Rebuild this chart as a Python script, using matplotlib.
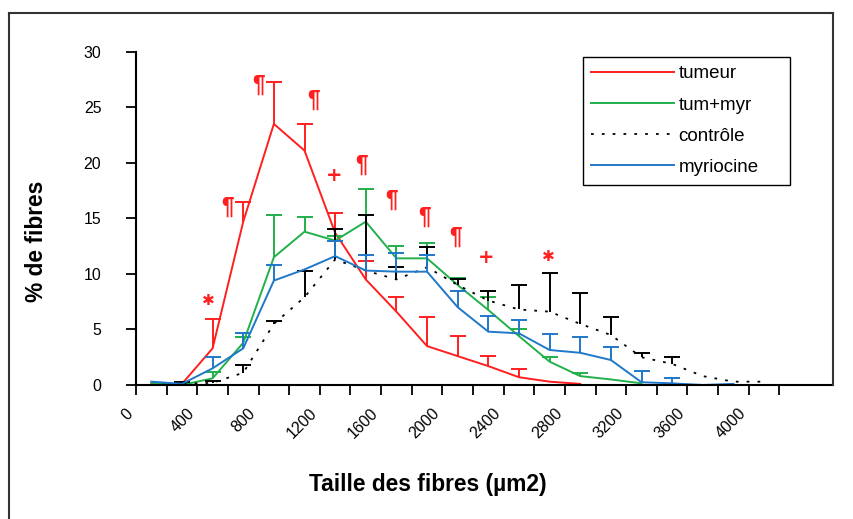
import numpy as np
import matplotlib.pyplot as plt
from matplotlib import font_manager
from matplotlib.lines import Line2D

nan = np.nan

# centres des classes de taille (µm2)
taille = [100, 300, 500, 700, 900, 1100, 1300, 1500, 1700, 1900, 2100,
          2300, 2500, 2700, 2900, 3100, 3300, 3500, 3700, 3900, 4100]

tumeur = [0.1, 0.1, 3.3, 14.7, 23.5, 21.1, 13.7, 9.5, 6.6, 3.5, 2.6,
          1.7, 0.7, 0.3, 0.1, nan, nan, nan, nan, nan, nan]
tumeur_haut = [nan, nan, 5.9, 16.5, 27.3, 23.5, 15.5, 11.2, 7.9, 6.1, 4.4,
               2.6, 1.4, nan, nan, nan, nan, nan, nan, nan, nan]

tum_myr = [0.2, 0.0, 0.6, 3.8, 11.5, 13.8, 13.0, 14.7, 11.4, 11.4, 9.0,
           6.75, 4.4, 2.1, 0.8, 0.5, 0.15, nan, nan, nan, nan]
tum_myr_haut = [nan, nan, 1.2, 4.35, 15.3, 15.1, 13.4, 17.6, 12.5, 12.8, 9.6,
                7.9, 5.0, 2.55, 1.1, nan, nan, nan, nan, nan, nan]

controle = [0.0, 0.1, 0.2, 1.1, 5.5, 7.9, 11.3, 10.3, 9.5, 10.6, 9.0,
            7.6, 6.8, 6.6, 5.5, 4.5, 2.5, 1.9, 0.8, 0.3, 0.3]
controle_haut = [nan, 0.25, 0.4, 1.8, 5.8, 10.3, 14.0, 15.3, 10.6, 12.4, 9.5,
                 8.5, 9.0, 10.1, 8.3, 6.1, 2.85, 2.5, nan, nan, nan]

myriocine = [0.3, 0.1, 1.5, 3.3, 9.4, 10.4, 11.6, 10.3, 10.2, 10.2, 7.0,
             4.8, 4.65, 3.15, 2.9, 2.25, 0.25, 0.15, 0.0, 0.1, nan]
myriocine_haut = [nan, nan, 2.5, 4.65, 10.8, nan, 13.0, 11.7, 11.9, 11.7, 8.5,
                  6.2, 5.85, 4.6, 4.3, 3.4, 1.25, 0.66, nan, nan, nan]

# signes de significativite
signes = ['✱', '¶', '¶', '¶', '+', '¶', '¶', '¶', '¶', '+', '✱']
signes_x = [470, 600, 800, 1160, 1295, 1475, 1670, 1885, 2085, 2285, 2690]
signes_y = [7.6, 16.0, 27.0, 25.6, 18.9, 19.8, 16.6, 15.1, 13.3, 11.5, 11.6]

graduations = list(range(0, 4400, 200))
etiquettes = [str(g) if g % 400 == 0 and g <= 4000 else '' for g in graduations]

installees = {f.name for f in font_manager.fontManager.ttflist}
if 'Liberation Sans Narrow' in installees:
    famille, k = 'Liberation Sans Narrow', 1.0
else:
    famille, k = 'Liberation Sans', 0.82
plt.rcParams['font.family'] = [famille, 'DejaVu Sans']

rouge, vert, bleu = '#ff1f1f', '#22b04b', '#1f78c8'

W, H = 854, 519
fig = plt.figure(figsize=(W / 100, H / 100), dpi=100)
ax = fig.add_axes([136 / W, 1 - 385 / H, (833 - 136) / W, (385 - 51.7) / H])

x = np.array(taille, float)
series = [
    (tumeur, tumeur_haut, 'tumeur', rouge, False),
    (tum_myr, tum_myr_haut, 'tum+myr', vert, False),
    (controle, controle_haut, 'contrôle', 'black', True),
    (myriocine, myriocine_haut, 'myriocine', bleu, False),
]
for vals, hauts, nom, col, pointille in series:
    v = np.array(vals, float)
    h = np.array(hauts, float)
    if pointille:
        ax.plot(x, v, color=col, lw=1.3, dashes=(1.5, 4.5), label=nom)
    else:
        ax.plot(x, v, color=col, lw=1.4, label=nom)
    m = ~np.isnan(h)
    ax.vlines(x[m], v[m], h[m], color=col, lw=1.4)
    ax.plot(x[m], h[m], ls='none', marker='_', ms=11, mew=1.4, color=col)

for s, sx, sy in zip(signes, signes_x, signes_y):
    if s == '¶':
        ax.text(sx, sy, s, color=rouge, fontsize=20 * k, fontweight='bold',
                ha='center', va='center')
    elif s == '+':
        ax.text(sx, sy, s, color=rouge, fontsize=14, fontweight='bold',
                family='DejaVu Sans', ha='center', va='center')
    else:
        ax.text(sx, sy, s, color=rouge, fontsize=11, fontweight='bold',
                family='DejaVu Sans', ha='center', va='center')

ax.set_xlim(0, 4550)
ax.set_ylim(0, 30)
ax.set_xticks(graduations)
ax.set_xticklabels(etiquettes, rotation=45, ha='right', fontsize=14 * k)
ax.set_yticks(range(0, 31, 5))
ax.tick_params(axis='y', labelsize=14 * k, length=7, width=1.3, pad=18)
ax.tick_params(axis='x', length=7, width=1.3, pad=8)
for cote in ['top', 'right']:
    ax.spines[cote].set_visible(False)
for cote in ['left', 'bottom']:
    ax.spines[cote].set_linewidth(1.5)

fig.text(428 / W, 1 - 484 / H, 'Taille des fibres (µm2)', fontsize=20 * k,
         fontweight='bold', ha='center', va='center')
fig.text(37 / W, 1 - 241 / H, '% de fibres', fontsize=20 * k,
         fontweight='bold', ha='center', va='center', rotation=90)

leg = ax.legend(loc='upper left',
                bbox_to_anchor=(582.7 / W, 1 - 188 / H, 207 / W, 131.3 / H),
                bbox_transform=fig.transFigure, borderaxespad=0, mode='expand',
                fontsize=16.5 * k, frameon=True, fancybox=False, framealpha=1,
                edgecolor='black', handlelength=4.4, handletextpad=0.25,
                labelspacing=0.75, borderpad=0.45)
leg.get_frame().set_linewidth(1.0)

# cadre du graphique
cadre = dict(transform=fig.transFigure, color='#333333', lw=1.5)
fig.add_artist(Line2D([9 / W, 833 / W], [1 - 13 / H, 1 - 13 / H], **cadre))
fig.add_artist(Line2D([9 / W, 9 / W], [1 - 13 / H, 0], **cadre))
fig.add_artist(Line2D([833 / W, 833 / W], [1 - 13 / H, 1 - 385 / H], **cadre))

fig.savefig('out.png', dpi=100)
